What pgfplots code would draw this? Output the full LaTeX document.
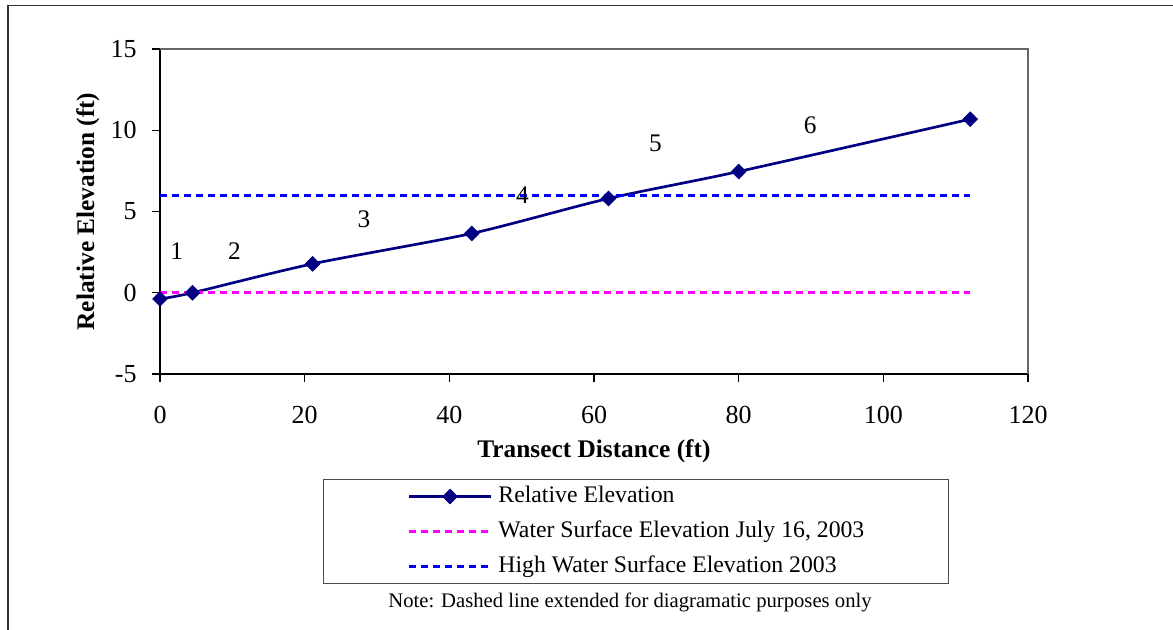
\documentclass[border=0pt]{standalone}
\usepackage{pgfplots}
\pgfplotsset{compat=1.18}
\usepackage{fontspec}
\setmainfont{Liberation Serif}
\definecolor{navyline}{HTML}{000080}
\definecolor{magline}{HTML}{FF00FF}
\definecolor{blueline}{HTML}{0000FF}
\begin{document}
\begin{tikzpicture}
\useasboundingbox (0,0) rectangle (879.75pt,472.5pt);
\draw[line width=1.1pt, black!80] (6pt,-2pt) -- (6pt,468.4pt) -- (885pt,468.4pt);
\begin{axis}[
  at={(120pt,192pt)}, anchor=south west,
  scale only axis, width=651pt, height=243.75pt,
  xmin=0, xmax=120, ymin=-5, ymax=15,
  xtick={0,20,...,120}, ytick={-5,0,5,10,15},
  axis x line*=bottom, axis y line*=left,
  x axis line style={-, line width=0.9pt},
  y axis line style={-, line width=0.9pt},
  tick align=outside, major tick length=6pt,
  tick style={black, line width=0.8pt},
  tick label style={font=\fontsize{19.5}{22}\selectfont},
  xticklabel style={yshift=-15pt},
  yticklabel style={xshift=-8pt},
  /pgf/number format/assume math mode=true,
  xlabel={\textbf{Transect Distance (ft)}},
  ylabel={\textbf{Relative Elevation (ft)}},
  label style={font=\fontsize{19}{22}\selectfont},
  xlabel style={at={(axis description cs:0.5,-0.237)}, anchor=center},
  ylabel style={at={(axis description cs:-0.083,0.5)}, anchor=center},
  clip=false,
  legend cell align=left,
  legend style={at={(axis description cs:0.1878,-0.323)}, anchor=north west,
    draw=black!70, line width=0.8pt, fill=white,
    font=\fontsize{17.8}{21}\selectfont,
    inner xsep=63pt, inner ysep=4.3pt,
    nodes={inner sep=0pt, text height=13pt, text depth=4pt},
    row sep=9.1pt, column sep=4.5pt},
  legend image code/.code={\draw[mark repeat=2,mark phase=2,#1] plot coordinates {(0pt,0pt) (30.75pt,0pt) (61.5pt,0pt)};},
]
\draw[black!60, line width=0.8pt] (rel axis cs:0,1) -- (rel axis cs:1,1) -- (rel axis cs:1,0);
\addplot[navyline, line width=2pt, smooth, tension=0.45, mark=square*, mark size=3.9pt,
  mark options={rotate=45, solid, fill=navyline, draw=navyline, line width=0.5pt}]
  coordinates {(0,-0.38) (4.5,0.0) (21.1,1.78) (43.1,3.65) (62.0,5.80) (80.0,7.46) (112.0,10.68)};
\addlegendentry{Relative Elevation}
\addplot[magline, line width=2.2pt, dash pattern=on 5.25pt off 3.75pt]
  coordinates {(0,0) (112,0)};
\addlegendentry{Water Surface Elevation July 16, 2003}
\addplot[blueline, line width=2.2pt, dash pattern=on 5.25pt off 3.75pt]
  coordinates {(0,6) (112,6)};
\addlegendentry{High Water Surface Elevation 2003}
\node[font=\fontsize{19}{22}\selectfont] at (axis cs:2.3,2.56) {1};
\node[font=\fontsize{19}{22}\selectfont] at (axis cs:10.3,2.56) {2};
\node[font=\fontsize{19}{22}\selectfont] at (axis cs:28.2,4.52) {3};
\node[font=\fontsize{19}{22}\selectfont] at (axis cs:50.1,6.02) {4};
\node[font=\fontsize{19}{22}\selectfont] at (axis cs:68.5,9.2) {5};
\node[font=\fontsize{19}{22}\selectfont] at (axis cs:89.9,10.33) {6};
\end{axis}
\node[font=\fontsize{15.5}{18}\selectfont] at (472.5pt,21pt) {Note: Dashed line extended for diagramatic purposes only};
\end{tikzpicture}
\end{document}
